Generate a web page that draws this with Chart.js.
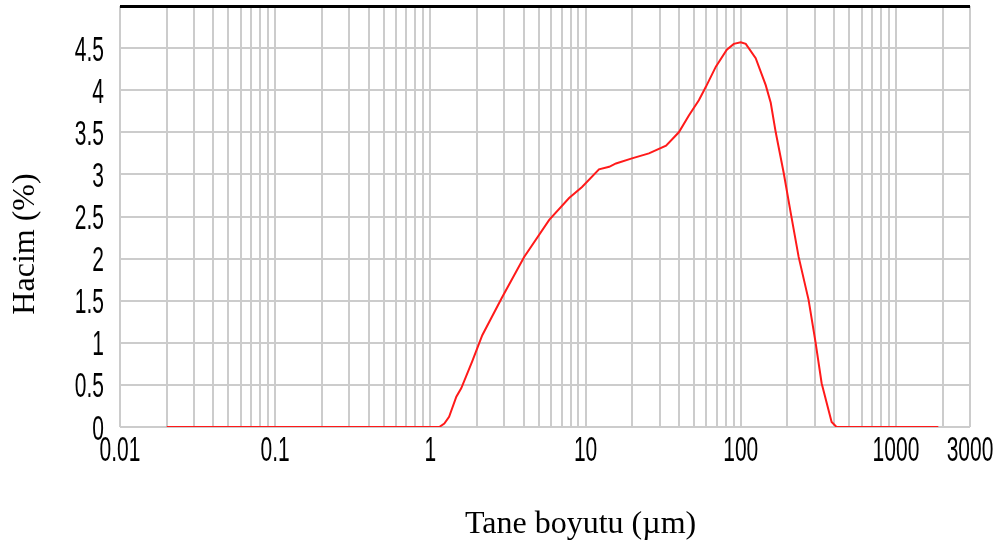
<!DOCTYPE html>
<html>
<head>
<meta charset="utf-8">
<script src="https://cdn.jsdelivr.net/npm/chart.js@4.4.1/dist/chart.umd.min.js"></script>
<style>
  html, body { margin: 0; padding: 0; background: #fff; }
  canvas { display: block; }
</style>
</head>
<body>
<canvas id="psdChart" width="1001" height="547"></canvas>
<script>
// particle size (µm) and volume (%)
const sizes = [0.02, 1.14, 1.23, 1.32, 1.47, 1.58, 1.86, 2.16, 2.9, 4.02, 5.83, 7.83, 9.49, 12.2, 14.2,
  15.7, 19.9, 25.6, 33.0, 39.9, 46.3, 53.7, 59.6, 69.1, 81.3, 90.2, 100, 107.7, 124.8, 144.8, 156,
  168, 189, 210, 236, 273.5, 303, 332, 368, 385, 414, 1875];
const volumes = [0, 0, 0.04, 0.12, 0.36, 0.46, 0.78, 1.09, 1.54, 2.02, 2.46, 2.72, 2.85, 3.06, 3.09,
  3.13, 3.19, 3.25, 3.34, 3.5, 3.7, 3.88, 4.04, 4.28, 4.48, 4.55, 4.57, 4.55, 4.38, 4.06, 3.85,
  3.5, 3.02, 2.54, 2.02, 1.51, 1.01, 0.52, 0.2, 0.06, 0, 0];

const xTickValues = [0.01, 0.1, 1, 10, 100, 1000, 3000];
const xTickLabels = ['0.01', '0.1', '1', '10', '100', '1000', '3000'];
const yTickValues = [0, 0.5, 1, 1.5, 2, 2.5, 3, 3.5, 4, 4.5];
const yTickLabels = ['0', '0.5', '1', '1.5', '2', '2.5', '3', '3.5', '4', '4.5'];

const xTitle = 'Tane boyutu (µm)';
const yTitle = 'Hacim (%)';

const GRID = '#cccccc';

// log grid: every integer multiple inside each decade, up to 3000
function logGridTicks() {
  const out = [];
  for (let e = -2; e <= 3; e++) {
    for (let m = 1; m <= 9; m++) {
      const v = +(m * Math.pow(10, e)).toPrecision(3);
      if (v <= 3000) out.push({ value: v });
    }
  }
  return out;
}

// narrow tick labels + axis titles
const textPlugin = {
  id: 'textPlugin',
  afterDraw(chart) {
    const { ctx } = chart;
    const x = chart.scales.x, y = chart.scales.y;
    ctx.save();
    ctx.fillStyle = '#000';
    ctx.font = '35px "Liberation Sans", Arial, sans-serif';
    ctx.textBaseline = 'alphabetic';

    ctx.textAlign = 'center';
    xTickValues.forEach((v, i) => {
      ctx.save();
      ctx.translate(x.getPixelForValue(v), 461);
      ctx.scale(0.6, 1);
      ctx.fillText(xTickLabels[i], 0, 0);
      ctx.restore();
    });

    ctx.textAlign = 'right';
    yTickValues.forEach((v, i) => {
      ctx.save();
      ctx.translate(104, y.getPixelForValue(v) + 12.5);
      ctx.scale(0.6, 1);
      ctx.fillText(yTickLabels[i], 0, 0);
      ctx.restore();
    });

    ctx.font = '32px "Liberation Serif", "Times New Roman", serif';
    ctx.textAlign = 'left';
    ctx.fillText(xTitle, 465, 533);

    ctx.save();
    ctx.translate(34, 244);
    ctx.rotate(-Math.PI / 2);
    ctx.textAlign = 'center';
    ctx.fillText(yTitle, 0, 0);
    ctx.restore();

    ctx.restore();
  }
};

new Chart(document.getElementById('psdChart'), {
  type: 'line',
  data: {
    datasets: [{
      data: sizes.map((s, i) => ({ x: s, y: volumes[i] })),
      borderColor: '#ff1a1a',
      borderWidth: 2,
      pointRadius: 0,
      tension: 0,
      fill: false
    }]
  },
  options: {
    responsive: false,
    animation: false,
    layout: { padding: { left: 0, top: 6, right: 31, bottom: 0 } },
    plugins: { legend: { display: false }, tooltip: { enabled: false } },
    scales: {
      x: {
        type: 'logarithmic',
        min: 0.01,
        max: 3000,
        afterBuildTicks: (scale) => { scale.ticks = logGridTicks(); },
        afterFit: (scale) => { scale.height = 120; },
        ticks: { display: false },
        grid: { color: GRID, lineWidth: 2, drawTicks: false },
        border: { display: false }
      },
      y: {
        type: 'linear',
        min: 0,
        max: 5,
        afterBuildTicks: (scale) => {
          scale.ticks = yTickValues.concat([5]).map(v => ({ value: v }));
        },
        afterFit: (scale) => { scale.width = 120; },
        ticks: { display: false },
        grid: {
          drawTicks: false,
          color: (c) => (c.tick && c.tick.value === 5 ? '#000' : GRID),
          lineWidth: (c) => (c.tick && c.tick.value === 5 ? 3 : 2)
        },
        border: { display: false }
      }
    }
  },
  plugins: [textPlugin]
});
</script>
</body>
</html>
